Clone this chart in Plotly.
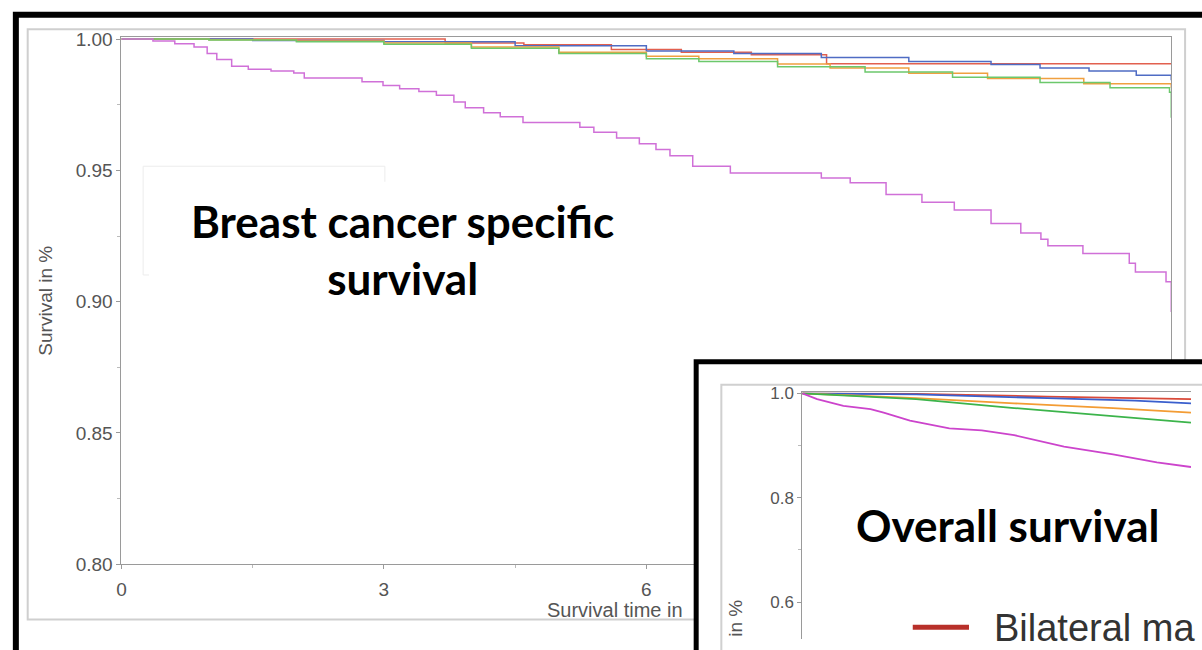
import plotly.graph_objects as go

W, H = 1202, 650

# ---------------- data: breast cancer specific survival (main chart) ----------------
bcss_purple_t = [0, 0.36, 0.61, 0.83, 0.98, 1.09, 1.26, 1.45, 1.71, 1.97, 2.09, 2.75, 2.99, 3.18, 3.40,
                 3.60, 3.80, 3.93, 4.14, 4.33, 4.59, 5.24, 5.40, 5.66, 5.92, 6.11, 6.27, 6.53, 6.96,
                 8.00, 8.33, 8.74, 9.15, 9.52, 9.94, 10.28, 10.51, 10.59, 10.99, 11.52, 11.59, 11.94, 12.0]
bcss_purple_s = [1.0, 0.9993, 0.9982, 0.9970, 0.9945, 0.9922, 0.9896, 0.9885, 0.9878, 0.9871, 0.9852,
                 0.9837, 0.9823, 0.9811, 0.9800, 0.9786, 0.9760, 0.9738, 0.9719, 0.9704, 0.9682, 0.9664,
                 0.9645, 0.9623, 0.9601, 0.9579, 0.9556, 0.9516, 0.9490, 0.9471, 0.9453, 0.9408, 0.9379,
                 0.9349, 0.9298, 0.9261, 0.9238, 0.9213, 0.9183, 0.9146, 0.9113, 0.9076, 0.8961]

bcss_red_t = [0, 3.7, 4.6, 5.6, 6.4, 7.2, 8.06, 12.0]
bcss_red_s = [1.0, 0.9985, 0.9978, 0.9960, 0.9950, 0.9940, 0.9906, 0.9906]

bcss_blue_t = [0, 1.5, 3.0, 4.5, 6.0, 7.0, 8.0, 9.0, 9.94, 10.5, 11.06, 11.6, 12.0]
bcss_blue_s = [1.0, 0.9995, 0.9990, 0.9975, 0.9955, 0.9945, 0.9930, 0.9915, 0.9903, 0.9890, 0.9878, 0.9862, 0.9843]

bcss_orange_t = [0, 1.0, 2.0, 3.0, 4.0, 5.0, 6.0, 6.6, 7.5, 8.1, 9.0, 9.9, 11.0, 12.0]
bcss_orange_s = [1.0, 0.9997, 0.9993, 0.9985, 0.9970, 0.9950, 0.9935, 0.9925, 0.9905, 0.9890, 0.9870, 0.9850, 0.9830, 0.9815]

bcss_green_t = [0, 1.0, 2.0, 3.0, 4.0, 5.0, 6.0, 6.6, 7.5, 8.5, 9.5, 10.5, 11.3, 11.98, 12.0]
bcss_green_s = [1.0, 0.9996, 0.9990, 0.9980, 0.9965, 0.9945, 0.9925, 0.9915, 0.9895, 0.9875, 0.9855, 0.9835, 0.9815, 0.9797, 0.9700]

# ---------------- data: overall survival (inset chart) ----------------
os_purple_t = [0, 0.17, 0.47, 0.78, 0.93, 1.23, 1.68, 2.05, 2.42, 2.80, 2.99, 3.55, 4.05, 4.44]
os_purple_s = [1.0, 0.989, 0.976, 0.970, 0.963, 0.948, 0.933, 0.929, 0.920, 0.905, 0.898, 0.883, 0.868, 0.859]
os_green_t = [0, 1.3, 2.42, 3.55, 4.44]
os_green_s = [1.0, 0.989, 0.972, 0.957, 0.944]
os_orange_t = [0, 1.3, 2.42, 3.55, 4.44]
os_orange_s = [1.0, 0.991, 0.981, 0.972, 0.963]
os_blue_t = [0, 1.3, 2.8, 3.8, 4.44]
os_blue_s = [1.0, 0.998, 0.991, 0.986, 0.981]
os_red_t = [0, 1.3, 2.8, 3.8, 4.44]
os_red_s = [1.0, 0.999, 0.994, 0.991, 0.989]

main_y_ticks = [0.80, 0.85, 0.90, 0.95, 1.00]
main_x_ticks = [0, 3, 6, 9, 12]
inset_y_ticks = [0.6, 0.8, 1.0]

def px(x):
    return x / W

def py(y):
    return 1 - y / H

fig = go.Figure()

main_series = [
    (bcss_red_t, bcss_red_s, "#e2604f"),
    (bcss_blue_t, bcss_blue_s, "#4f6cc4"),
    (bcss_orange_t, bcss_orange_s, "#f0a040"),
    (bcss_green_t, bcss_green_s, "#6cc86c"),
    (bcss_purple_t, bcss_purple_s, "#d070d8"),
]
for t, s, c in main_series:
    fig.add_trace(go.Scatter(x=t, y=s, mode="lines", line=dict(color=c, width=1.5, shape="hv"),
                             xaxis="x", yaxis="y", hoverinfo="skip"))

# cover subplot (white background of the inset picture)
fig.add_trace(go.Scatter(x=[None], y=[None], mode="lines", xaxis="x2", yaxis="y2", hoverinfo="skip"))

inset_series = [
    (os_red_t, os_red_s, "#d94a3a"),
    (os_blue_t, os_blue_s, "#3a5fcd"),
    (os_orange_t, os_orange_s, "#f39c34"),
    (os_green_t, os_green_s, "#3cb44b"),
    (os_purple_t, os_purple_s, "#cc44cc"),
]
for t, s, c in inset_series:
    fig.add_trace(go.Scatter(x=t, y=s, mode="lines", line=dict(color=c, width=1.8),
                             xaxis="x3", yaxis="y3", hoverinfo="skip"))

axis_col = "#9a9a9a"
tick_font = dict(family="Liberation Sans, Arial, sans-serif", size=19, color="#555555")

fig.update_layout(
    width=W, height=H, autosize=False,
    margin=dict(l=0, r=0, t=0, b=0, pad=0),
    paper_bgcolor="white", plot_bgcolor="white",
    showlegend=False,
    xaxis=dict(domain=[px(118), px(1182)], range=[0, 12], tickvals=main_x_ticks,
               ticks="outside", ticklen=4, tickcolor=axis_col, showline=True, linecolor=axis_col,
               mirror=True, showgrid=False, zeroline=False, tickfont=tick_font, ticklabelstandoff=4,
               minor=dict(tickvals=[1.5, 4.5, 7.5, 10.5], ticks="outside", ticklen=3, tickcolor="#bbbbbb"),
               anchor="y"),
    yaxis=dict(domain=[py(573), py(30)], range=[0.8, 1.00074], tickvals=main_y_ticks, tickformat=".2f",
               ticks="outside", ticklen=4, tickcolor=axis_col, showline=True, linecolor=axis_col,
               mirror=True, showgrid=False, zeroline=False, tickfont=tick_font,
               minor=dict(tickvals=[0.825, 0.875, 0.925, 0.975], ticks="outside", ticklen=3, tickcolor="#bbbbbb"),
               anchor="x"),
    xaxis2=dict(domain=[px(701), 1], range=[0, 1], visible=False, anchor="y2"),
    yaxis2=dict(domain=[0, py(365)], range=[0, 1], visible=False, anchor="x2"),
    xaxis3=dict(domain=[px(808), 1], range=[0, 4.44], side="top", showline=True, linecolor=axis_col,
                ticks="", showticklabels=False, showgrid=False, zeroline=False, anchor="y3"),
    yaxis3=dict(domain=[0, py(396)], range=[0.5293, 1.0019], tickvals=inset_y_ticks, tickformat=".1f",
                ticks="outside", ticklen=4, tickcolor=axis_col, showline=True, linecolor=axis_col,
                showgrid=False, zeroline=False,
                tickfont=dict(family="Liberation Sans, Arial, sans-serif", size=17, color="#555555"),
                minor=dict(tickvals=[0.7, 0.9], ticks="outside", ticklen=3, tickcolor="#bbbbbb"),
                anchor="x3"),
)

shapes = [
    # main picture: light grey chart frame and faint legend box (below everything)
    dict(type="rect", xref="paper", yref="paper", x0=px(23), x1=px(1196), y0=py(630), y1=py(22),
         line=dict(color="#cfcfcf", width=2), layer="below"),
    dict(type="rect", xref="paper", yref="paper", x0=px(140), x1=px(385), y0=py(275), y1=py(163),
         line=dict(color="#ececec", width=1), layer="below"),
    dict(type="rect", xref="paper", yref="paper", x0=px(146), x1=px(640), y0=py(330), y1=py(179),
         line=dict(width=0), fillcolor="white", layer="below"),
    # outer black border of the main picture
    dict(type="rect", xref="paper", yref="paper", x0=px(11), x1=px(1260), y0=py(700), y1=py(7),
         line=dict(color="black", width=6), layer="above"),
    # inset: black border and grey frame
    dict(type="rect", xref="paper", yref="paper", x0=px(700.5), x1=px(1260), y0=py(700), y1=py(364.5),
         line=dict(color="black", width=5), layer="above"),
    dict(type="rect", xref="paper", yref="paper", x0=px(726), x1=px(1260), y0=py(700), y1=py(388),
         line=dict(color="#d0d0d0", width=2), layer="above"),
    # inset legend sample line
    dict(type="line", xref="paper", yref="paper", x0=px(920), x1=px(977), y0=py(638), y1=py(638),
         line=dict(color="#b8302a", width=5), layer="above"),
]
fig.update_layout(shapes=shapes)

label_font = dict(family="Liberation Sans, Arial, sans-serif", size=19, color="#555555")
title_font = dict(family="Lato, Open Sans, sans-serif", size=44, color="black", weight="bold")

annotations = [
    dict(text="Breast cancer specific<br>survival", x=px(403), y=py(249), xref="paper", yref="paper",
         showarrow=False, font=title_font, align="center", xanchor="center", yanchor="middle"),
    dict(text="Overall survival", x=px(1016), y=py(533), xref="paper", yref="paper",
         showarrow=False, font=title_font, xanchor="center", yanchor="middle"),
    dict(text="Survival in %", x=px(41), y=py(301), xref="paper", yref="paper", textangle=-90,
         showarrow=False, font=label_font, xanchor="center", yanchor="middle"),
    dict(text="Survival time in", x=px(547), y=py(620), xref="paper", yref="paper",
         showarrow=False, font=dict(family="Liberation Sans, Arial, sans-serif", size=20, color="#555555"),
         xanchor="left", yanchor="middle"),
    dict(text="in %", x=px(740), y=py(629), xref="paper", yref="paper", textangle=-90,
         showarrow=False, font=label_font, xanchor="center", yanchor="middle"),
    dict(text="Bilateral ma", x=px(1000), y=py(639), xref="paper", yref="paper",
         showarrow=False, font=dict(family="Liberation Sans, Arial, sans-serif", size=38, color="#333333"),
         xanchor="left", yanchor="middle"),
]
fig.update_layout(annotations=annotations)

fig.write_html("out.html")
